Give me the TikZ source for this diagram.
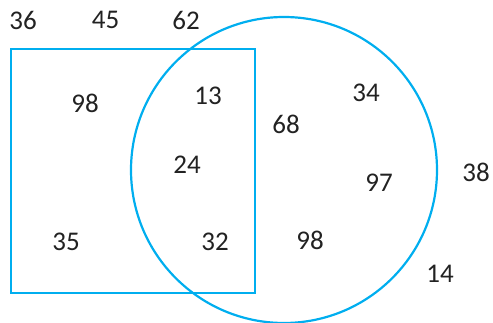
\documentclass[tikz,border=0pt]{standalone}
\usepackage{fontspec}
\setmainfont{Carlito}
\definecolor{venn}{HTML}{00AEEF}
\definecolor{txt}{HTML}{222222}
\begin{document}
\begin{tikzpicture}[x=1pt,y=-1pt,
  num/.style={inner sep=0pt,text=txt,font=\fontsize{27}{30}\selectfont},
  vennline/.style={draw=venn,line width=2.2pt}]
\useasboundingbox (0,0) rectangle (493,323);
\node[vennline,rectangle,minimum width=244pt,minimum height=244pt,inner sep=0pt] (sq) at (133,171) {};
\node[vennline,circle,minimum size=306pt,inner sep=0pt] (ci) at (284,170) {};
\node[num] (n36) at (23,20) {36};
\node[num] (n45) at (105.5,20) {45};
\node[num] (n62) at (186,20) {62};
\node[num] (n98a) at (85,103) {98};
\node[num] (n13) at (208,96) {13};
\node[num] (n24) at (187,165) {24};
\node[num] (n35) at (66,242) {35};
\node[num] (n32) at (215,242) {32};
\node[num] (n34) at (366,93) {34};
\node[num] (n68) at (286,124) {68};
\node[num] (n97) at (379,183) {97};
\node[num] (n38) at (476,172) {38};
\node[num] (n98b) at (310,240) {98};
\node[num] (n14) at (440,274) {14};
\end{tikzpicture}
\end{document}
